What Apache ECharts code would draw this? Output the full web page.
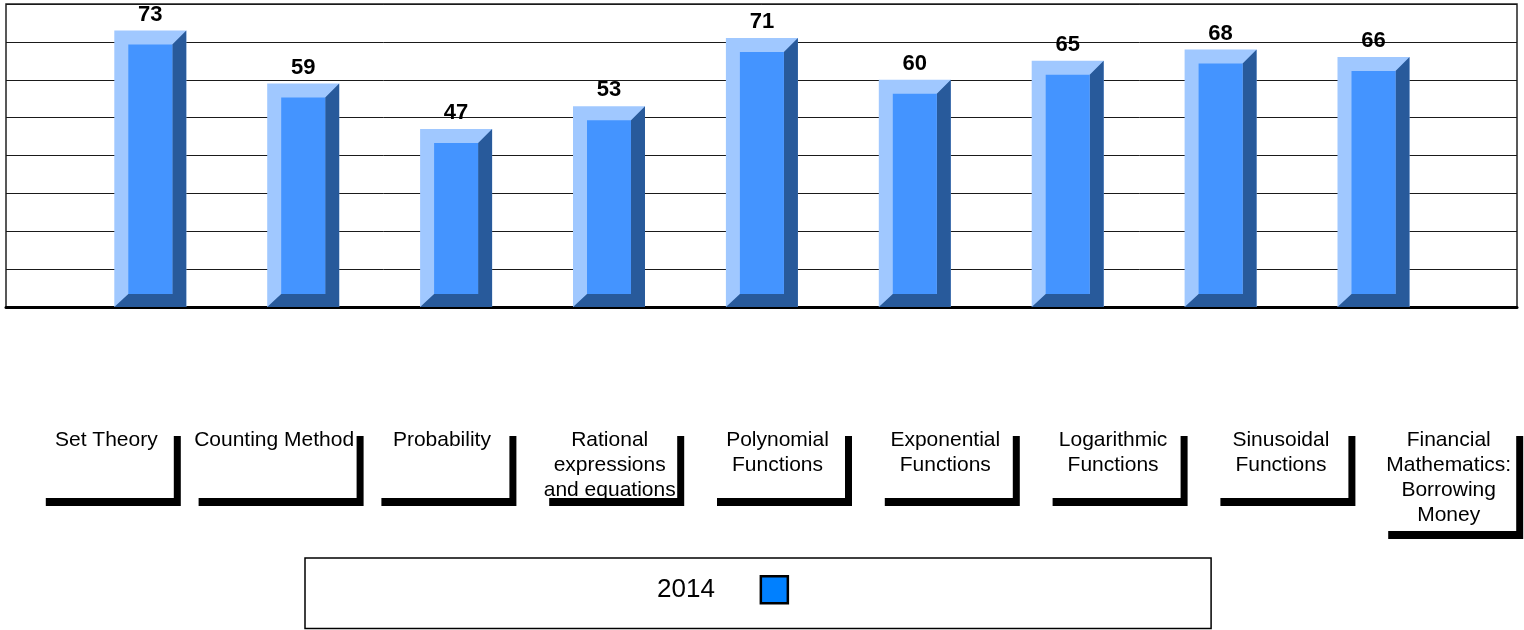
<!DOCTYPE html>
<html><head><meta charset="utf-8">
<script src="https://cdn.jsdelivr.net/npm/echarts@6/dist/echarts.min.js"></script>
<style>html,body{margin:0;padding:0;background:#fff}#c{width:1524px;height:630px}</style>
</head><body><div id="c"></div>
<script>
// ---- data ----
const categories = ['Set Theory', 'Counting Method', 'Probability', 'Rational\nexpressions\nand equations', 'Polynomial\nFunctions', 'Exponential\nFunctions', 'Logarithmic\nFunctions', 'Sinusoidal\nFunctions', 'Financial\nMathematics:\nBorrowing\nMoney'];
const seriesName = '2014';
const values2014 = [73, 59, 47, 53, 71, 60, 65, 68, 66];
const yMin = 0, yMax = 80, yInterval = 10;

// ---- styles ----
const FONT = '"Liberation Sans", Arial, sans-serif';
const labelOverrides = {
  1: { width: 161, verticalAlign: 'top', align: 'center' },
  8: { height: 103, verticalAlign: 'top', align: 'center' }
};

const chart = echarts.init(document.getElementById('c'), null, { renderer: 'canvas' });

function renderBar(params, api) {
  const idx = api.value(0);
  const v = api.value(1);
  const top = api.coord([idx, v]);
  const base = api.coord([idx, 0]);
  const w = 72, b = 14, bb = 13;
  const x0 = top[0] - w / 2, x1 = top[0] + w / 2, y0 = top[1], y1 = base[1];
  return {
    type: 'group',
    children: [
      {
        type: 'rect', shape: { x: x0, y: y0, width: w, height: y1 - y0 }, style: { fill: '#a0c8ff' },
        textContent: { style: { text: String(v), font: 'bold 22px ' + FONT, fill: '#000' } },
        textConfig: { position: 'top', distance: 5 }
      },
      {
        type: 'polygon',
        shape: { points: [[x1, y0], [x1, y1], [x0, y1], [x0 + b, y1 - bb], [x1 - b, y1 - bb], [x1 - b, y0 + b]] },
        style: { fill: '#285a9b' }
      },
      { type: 'rect', shape: { x: x0 + b, y: y0 + b, width: w - 2 * b, height: (y1 - bb) - (y0 + b) }, style: { fill: '#4494ff' } }
    ]
  };
}

const labelAxisData = categories.map((c, i) => labelOverrides[i] ? { value: c, textStyle: labelOverrides[i] } : c);

const option = {
  animation: false,
  backgroundColor: '#fff',
  grid: [
    { left: 6, top: 4, width: 1511, height: 303, show: true, backgroundColor: '#fff', borderColor: '#222', borderWidth: 1.5, containLabel: false, outerBoundsMode: 'none' },
    { left: 73.85, top: 4, width: 1376.1, height: 303, containLabel: false, outerBoundsMode: 'none' },
    { left: 22.4, top: 4, width: 1510.2, height: 303, containLabel: false, outerBoundsMode: 'none' }
  ],
  xAxis: [
    { gridIndex: 0, type: 'value', min: 0, max: 1, axisLine: { show: true, onZero: false, lineStyle: { color: '#000', width: 3 } }, axisTick: { show: false }, axisLabel: { show: false }, splitLine: { show: false } },
    { gridIndex: 1, type: 'category', data: categories, show: false },
    {
      gridIndex: 2, type: 'category', data: labelAxisData,
      axisLine: { show: false }, axisTick: { show: false }, splitLine: { show: false },
      axisLabel: {
        interval: 0, margin: 121, verticalAlign: 'top', align: 'center',
        fontFamily: FONT, fontSize: 21, lineHeight: 25, color: '#000',
        backgroundColor: '#fff', width: 131, height: 70, padding: [0, 2, 0, 2], overflow: 'none',
        shadowColor: '#000', shadowBlur: 0, shadowOffsetX: 7, shadowOffsetY: 8
      }
    }
  ],
  yAxis: [
    { gridIndex: 0, type: 'value', min: yMin, max: yMax, interval: yInterval, axisLine: { show: false }, axisTick: { show: false }, axisLabel: { show: false }, splitLine: { show: true, lineStyle: { color: '#1a1a1a', width: 1 } } },
    { gridIndex: 1, type: 'value', min: yMin, max: yMax, interval: yInterval, show: false, splitLine: { show: false } },
    { gridIndex: 2, type: 'value', min: 0, max: 1, show: false, splitLine: { show: false } }
  ],
  legend: {
    left: 305, top: 558, orient: 'horizontal',
    padding: [17, 422, 24, 352],
    borderColor: '#000', borderWidth: 1.5,
    align: 'right', icon: 'rect', itemWidth: 27, itemHeight: 27,
    selectedMode: false,
    textStyle: { fontFamily: FONT, fontSize: 26, color: '#000', padding: [0, 41, 0, 0] },
    data: [{ name: seriesName, itemStyle: { color: '#0080ff', borderColor: '#000', borderWidth: 2.5 } }]
  },
  series: [{
    name: seriesName, type: 'custom', xAxisIndex: 1, yAxisIndex: 1,
    itemStyle: { color: '#0080ff', borderColor: '#000', borderWidth: 2.5 },
    renderItem: renderBar,
    data: values2014.map((v, i) => [i, v]),
    z: 3
  }]
};
chart.setOption(option);
</script>
</body></html>
